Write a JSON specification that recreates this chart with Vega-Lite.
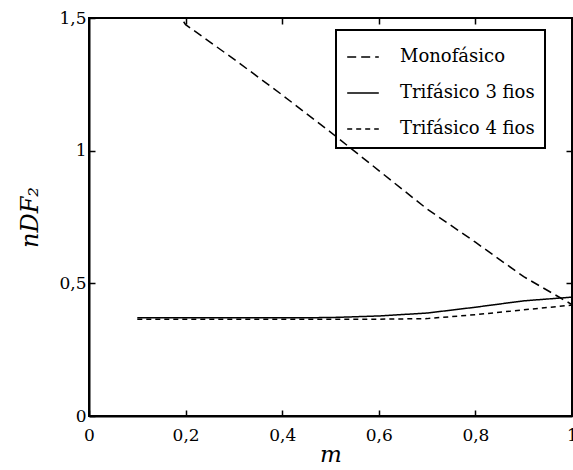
{
  "$schema": "https://vega.github.io/schema/vega-lite/v6.json",
  "width": 483,
  "height": 398,
  "autosize": "none",
  "padding": {"left": 89, "top": 18, "right": 1, "bottom": 54},
  "data": {"values": [
    {"m": 0.1, "v": 1.75, "s": "Monofásico"},
    {"m": 0.2, "v": 1.475, "s": "Monofásico"},
    {"m": 0.3, "v": 1.345, "s": "Monofásico"},
    {"m": 0.4, "v": 1.21, "s": "Monofásico"},
    {"m": 0.5, "v": 1.07, "s": "Monofásico"},
    {"m": 0.6, "v": 0.925, "s": "Monofásico"},
    {"m": 0.7, "v": 0.78, "s": "Monofásico"},
    {"m": 0.8, "v": 0.655, "s": "Monofásico"},
    {"m": 0.9, "v": 0.525, "s": "Monofásico"},
    {"m": 1.0, "v": 0.42, "s": "Monofásico"},
    {"m": 0.1, "v": 0.37, "s": "Trifásico 3 fios"},
    {"m": 0.2, "v": 0.37, "s": "Trifásico 3 fios"},
    {"m": 0.3, "v": 0.37, "s": "Trifásico 3 fios"},
    {"m": 0.4, "v": 0.37, "s": "Trifásico 3 fios"},
    {"m": 0.5, "v": 0.371, "s": "Trifásico 3 fios"},
    {"m": 0.6, "v": 0.377, "s": "Trifásico 3 fios"},
    {"m": 0.7, "v": 0.388, "s": "Trifásico 3 fios"},
    {"m": 0.8, "v": 0.41, "s": "Trifásico 3 fios"},
    {"m": 0.9, "v": 0.434, "s": "Trifásico 3 fios"},
    {"m": 1.0, "v": 0.448, "s": "Trifásico 3 fios"},
    {"m": 0.1, "v": 0.365, "s": "Trifásico 4 fios"},
    {"m": 0.2, "v": 0.365, "s": "Trifásico 4 fios"},
    {"m": 0.3, "v": 0.365, "s": "Trifásico 4 fios"},
    {"m": 0.4, "v": 0.365, "s": "Trifásico 4 fios"},
    {"m": 0.5, "v": 0.365, "s": "Trifásico 4 fios"},
    {"m": 0.6, "v": 0.365, "s": "Trifásico 4 fios"},
    {"m": 0.7, "v": 0.367, "s": "Trifásico 4 fios"},
    {"m": 0.8, "v": 0.382, "s": "Trifásico 4 fios"},
    {"m": 0.9, "v": 0.4, "s": "Trifásico 4 fios"},
    {"m": 1.0, "v": 0.418, "s": "Trifásico 4 fios"}
  ]},
  "layer": [
    {
      "mark": {"type": "line", "clip": true, "color": "black", "strokeWidth": 1.5},
      "encoding": {
        "x": {"field": "m", "type": "quantitative",
              "scale": {"domain": [0, 1], "nice": false},
              "axis": {"orient": "bottom", "values": [0, 0.2, 0.4, 0.6, 0.8, 1], "title": "m",
                       "format": "~g", "labelExpr": "replace(datum.label, '.', ',')",
                       "labelFont": "DejaVu Serif", "labelFontSize": 17, "labelColor": "black",
                       "labelFlush": false, "labelOverlap": false, "labelPadding": 17,
                       "tickSize": -6, "tickWidth": 1.5, "tickColor": "black",
                       "domain": true, "domainColor": "black", "domainWidth": 2, "grid": false,
                       "titleFont": "DejaVu Serif", "titleFontStyle": "italic", "titleFontSize": 23,
                       "titlePadding": 0, "titleFontWeight": "normal", "titleColor": "black"}},
        "y": {"field": "v", "type": "quantitative",
              "scale": {"domain": [0, 1.5], "nice": false},
              "axis": {"orient": "left", "values": [0, 0.5, 1, 1.5], "title": "nDF₂",
                       "format": "~g", "labelExpr": "replace(datum.label, '.', ',')",
                       "labelFont": "DejaVu Serif", "labelFontSize": 17, "labelColor": "black",
                       "labelFlush": false, "labelOverlap": false, "labelPadding": 9,
                       "tickSize": -6, "tickWidth": 1.5, "tickColor": "black",
                       "domain": true, "domainColor": "black", "domainWidth": 2, "grid": false,
                       "titleFont": "DejaVu Serif", "titleFontStyle": "italic", "titleFontSize": 24,
                       "titlePadding": 16, "titleFontWeight": "normal", "titleColor": "black"}},
        "strokeDash": {"field": "s", "type": "nominal",
                       "scale": {"domain": ["Monofásico", "Trifásico 3 fios", "Trifásico 4 fios"],
                                 "range": [[9, 5], [1, 0], [5, 4]]},
                       "legend": {"title": null, "orient": "none", "legendX": 247, "legendY": 12,
                                  "strokeColor": "black", "padding": 10, "symbolType": "stroke",
                                  "symbolSize": 1000, "symbolStrokeWidth": 1.5, "symbolStrokeColor": "black",
                                  "labelFont": "DejaVu Serif", "labelFontSize": 18, "labelOffset": 20,
                                  "rowPadding": 10, "labelColor": "black"}}
      }
    },
    {
      "mark": {"type": "line", "opacity": 0},
      "encoding": {
        "x": {"field": "m", "type": "quantitative",
              "scale": {"domain": [0, 1], "nice": false},
              "axis": {"orient": "top", "values": [0.2, 0.4, 0.6, 0.8], "labels": false, "title": null,
                       "domain": false, "grid": false, "tickSize": -6, "tickWidth": 1.5, "tickColor": "black"}},
        "y": {"field": "v", "type": "quantitative",
              "scale": {"domain": [0, 1.5], "nice": false},
              "axis": {"orient": "right", "values": [0.5, 1], "labels": false, "title": null,
                       "domain": false, "grid": false, "tickSize": -6, "tickWidth": 1.5, "tickColor": "black"}},
        "detail": {"field": "s", "type": "nominal"}
      }
    }
  ],
  "resolve": {"axis": {"x": "independent", "y": "independent"}},
  "config": {
    "view": {"stroke": "black", "strokeWidth": 2},
    "legend": {"strokeWidth": 2}
  }
}
